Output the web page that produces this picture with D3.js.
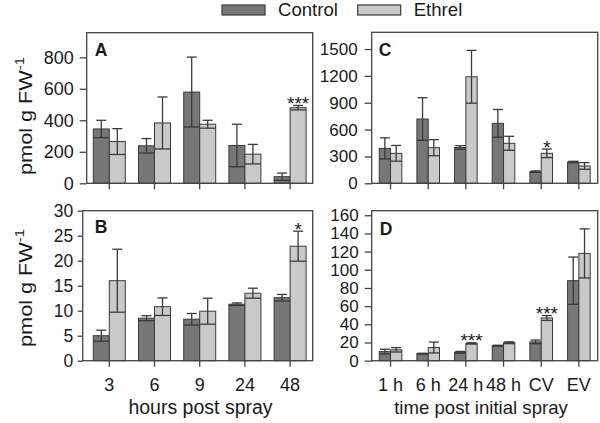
<!DOCTYPE html>
<html><head><meta charset="utf-8">
<script src="https://cdn.jsdelivr.net/npm/d3@7"></script>
<style>
html,body{margin:0;padding:0;background:#fff;}
text{font-family:"Liberation Sans",Arial,sans-serif;fill:#1a1a1a;}
</style></head>
<body>
<svg id="chart" width="600" height="423"></svg>
<script>
// ---- data ----
const seriesNames = ["Control", "Ethrel"];
const hoursCats = ["3", "6", "9", "24", "48"];
const timeCats = ["1 h", "6 h", "24 h", "48 h", "CV", "EV"];

const aControl = [345, 238, 579, 240, 42];
const aControlErr = [55, 46, 222, 135, 23];
const aEthrel = [265, 383, 375, 185, 480];
const aEthrelErr = [82, 165, 25, 62, 14];
const aStars = ["", "", "", "", "***"];
const aTicks = [0, 200, 400, 600, 800];

const bControl = [5.0, 8.5, 8.3, 11.3, 12.6];
const bControlErr = [1.1, 0.5, 1.15, 0.25, 0.65];
const bEthrel = [16.0, 10.8, 9.9, 13.5, 22.9];
const bEthrelErr = [6.3, 1.75, 2.6, 1.0, 3.0];
const bStars = ["", "", "", "", "*"];
const bTicks = [0, 5, 10, 15, 20, 25, 30];

const cControl = [390, 718, 400, 670, 130, 238];
const cControlErr = [118, 238, 20, 155, 8, 8];
const cEthrel = [335, 398, 1190, 447, 335, 194];
const cEthrelErr = [88, 90, 295, 78, 48, 37];
const cStars = ["", "", "", "", "*", ""];
const cTicks = [0, 300, 600, 900, 1200, 1500];

const dControl = [10, 7.7, 9.2, 16.5, 20.7, 88];
const dControlErr = [2.6, 0.5, 1.0, 0.5, 2.0, 26];
const dEthrel = [12, 14.5, 19, 19.8, 47, 118];
const dEthrelErr = [2.4, 6, 0.7, 1.0, 2.7, 27];
const dStars = ["", "", "***", "", "***", ""];
const dTicks = [0, 20, 40, 60, 80, 100, 120, 140, 160];

const colors = ["#777777", "#c9c9c9"];
const strokeCol = "#3a3a3a";

const svg = d3.select("#chart");

function panel(o) {
  const x = d3.scaleBand().domain(o.cats).range(o.xr).padding(0);
  const y = d3.scaleLinear().domain([0, o.ymax]).range(o.yr);
  const g = svg.append("g");
  const bw = o.bw;
  const series = [[o.c, o.ce], [o.e, o.ee]];
  series.forEach((s, si) => {
    const vals = s[0], errs = s[1];
    const bx = (d, i) => x(o.cats[i]) + x.bandwidth() / 2 - bw + si * bw;
    g.selectAll(null).data(vals).enter().append("rect")
      .attr("x", bx).attr("width", bw)
      .attr("y", d => y(d)).attr("height", d => y(0) - y(d))
      .attr("fill", colors[si]).attr("stroke", strokeCol).attr("stroke-width", 1);
    const eg = g.selectAll(null).data(vals).enter().append("g");
    eg.append("line")
      .attr("x1", (d, i) => bx(d, i) + bw / 2).attr("x2", (d, i) => bx(d, i) + bw / 2)
      .attr("y1", (d, i) => y(d - errs[i])).attr("y2", (d, i) => y(d + errs[i]))
      .attr("stroke", strokeCol).attr("stroke-width", 1.3);
    eg.append("line")
      .attr("x1", (d, i) => bx(d, i) + bw / 2 - 5).attr("x2", (d, i) => bx(d, i) + bw / 2 + 5)
      .attr("y1", (d, i) => y(d + errs[i])).attr("y2", (d, i) => y(d + errs[i]))
      .attr("stroke", strokeCol).attr("stroke-width", 1.3);
    eg.append("line")
      .attr("x1", (d, i) => bx(d, i)).attr("x2", (d, i) => bx(d, i) + bw)
      .attr("y1", (d, i) => y(d - errs[i])).attr("y2", (d, i) => y(d - errs[i]))
      .attr("stroke", strokeCol).attr("stroke-width", 1.3);
    if (si === 1) {
      g.selectAll(null).data(vals).enter().append("text")
        .attr("x", (d, i) => bx(d, i) + bw / 2)
        .attr("y", (d, i) => y(d + errs[i]) + 4.5)
        .attr("text-anchor", "middle").attr("font-size", 19)
        .text((d, i) => o.stars[i]);
    }
  });
  // frame
  const [y0, y1] = o.yr;
  g.append("rect").attr("x", o.fl).attr("y", y1).attr("width", o.xr[1] - o.fl).attr("height", y0 - y1)
    .attr("fill", "none").attr("stroke", "#444").attr("stroke-width", 1.3);
  // y axis
  const ya = g.append("g").attr("transform", `translate(${o.fl},0)`)
    .call(d3.axisLeft(y).tickValues(o.ticks).tickSize(o.ts).tickPadding(o.tp).tickFormat(d3.format("d")));
  ya.select(".domain").remove();
  ya.selectAll("line").attr("stroke", "#444").attr("stroke-width", 1.3);
  ya.selectAll("text").attr("font-size", o.fs).attr("font-family", "Liberation Sans, Arial, sans-serif").attr("fill", "#1a1a1a");
  // x axis
  const xa = g.append("g").attr("transform", `translate(0,${y0})`)
    .call(d3.axisBottom(x).tickSize(6).tickPadding(12).tickFormat(o.showX ? (d => d) : (() => "")));
  xa.select(".domain").remove();
  xa.selectAll("line").attr("stroke", "#444").attr("stroke-width", 1.3);
  xa.selectAll("text").attr("font-size", 18).attr("font-family", "Liberation Sans, Arial, sans-serif").attr("fill", "#1a1a1a");
  // panel letter
  g.append("text").attr("x", o.fl + o.lx).attr("y", o.ly).attr("font-size", 17.5).attr("font-weight", "bold").text(o.letter);
  // y title
  if (o.title) {
    const t = g.append("text").attr("transform", `translate(32,${o.tc}) rotate(-90)`)
      .attr("text-anchor", "middle").attr("font-size", 19)
      .attr("textLength", 118).attr("lengthAdjust", "spacingAndGlyphs");
    t.append("tspan").text("pmol g FW");
    t.append("tspan").attr("font-size", 13).attr("dy", -8).text("-1");
  }
}

panel({cats: hoursCats, c: aControl, ce: aControlErr, e: aEthrel, ee: aEthrelErr, stars: aStars, ticks: aTicks,
  xr: [86.7, 312.7], fl: 86.7, yr: [183.3, 32.7], ymax: 956, bw: 16, ts: 7, tp: 6, fs: 18, showX: false,
  letter: "A", lx: 8, ly: 55.5, title: true, tc: 116});
panel({cats: hoursCats, c: bControl, ce: bControlErr, e: bEthrel, ee: bEthrelErr, stars: bStars, ticks: bTicks,
  xr: [86.7, 312.7], fl: 82.7, yr: [360.7, 210.7], ymax: 30, bw: 16, ts: 5, tp: 4.5, fs: 17.5, showX: true,
  letter: "B", lx: 12, ly: 232.5, title: true, tc: 288});
panel({cats: timeCats, c: cControl, ce: cControlErr, e: cEthrel, ee: cEthrelErr, stars: cStars, ticks: cTicks,
  xr: [371.7, 597.7], fl: 371.7, yr: [183.3, 32.3], ymax: 1687, bw: 11.3, ts: 7, tp: 7, fs: 17, showX: false,
  letter: "C", lx: 7, ly: 55.5, title: false});
panel({cats: timeCats, c: dControl, ce: dControlErr, e: dEthrel, ee: dEthrelErr, stars: dStars, ticks: dTicks,
  xr: [371.7, 597.7], fl: 371.7, yr: [360.7, 210.7], ymax: 165, bw: 11.3, ts: 7, tp: 6, fs: 17, showX: true,
  letter: "D", lx: 8, ly: 234.5, title: false});

// x titles
svg.append("text").attr("x", 200.5).attr("y", 414).attr("text-anchor", "middle").attr("font-size", 19.5).text("hours post spray");
svg.append("text").attr("x", 481).attr("y", 414).attr("text-anchor", "middle").attr("font-size", 18.6).text("time post initial spray");

// legend
const legX = [222, 357.7];
seriesNames.forEach((n, i) => {
  svg.append("rect").attr("x", legX[i]).attr("y", 5).attr("width", 43).attr("height", 10)
    .attr("fill", colors[i]).attr("stroke", strokeCol).attr("stroke-width", 1.2);
  svg.append("text").attr("x", legX[i] + 56).attr("y", 16).attr("font-size", 18.6).text(n);
});
</script>
</body></html>
